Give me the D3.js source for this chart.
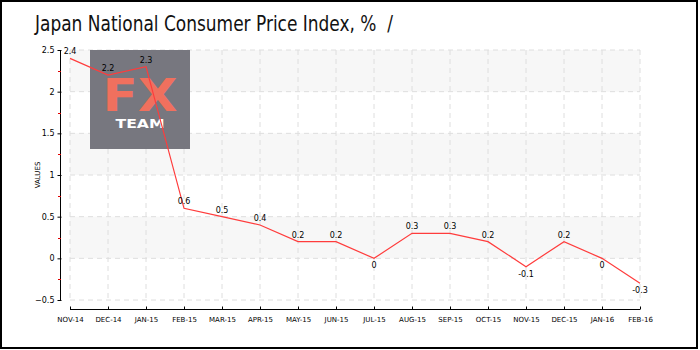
<!DOCTYPE html>
<html><head><meta charset="utf-8">
<script src="https://cdn.jsdelivr.net/npm/d3@7"></script>
<style>body{margin:0;background:#fff}svg{display:block}</style>
</head><body><svg id="c" width="700" height="350"></svg>
<script>
const titleText = "Japan National Consumer Price Index, %\u00a0\u00a0/";
const categories = ["NOV-14","DEC-14","JAN-15","FEB-15","MAR-15","APR-15","MAY-15","JUN-15","JUL-15","AUG-15","SEP-15","OCT-15","NOV-15","DEC-15","JAN-16","FEB-16"];
const values = [2.4,2.2,2.3,0.6,0.5,0.4,0.2,0.2,0,0.3,0.3,0.2,-0.1,0.2,0,-0.3];
const yTicks = [-0.5,0,0.5,1,1.5,2,2.5];
const yMinor = [-0.25,0.25,0.75,1.25,1.75,2.25];
const yLabel = "VALUES";

const svg = d3.select("#c");
const font = "'DejaVu Sans', sans-serif";
svg.append("rect").attr("x",1).attr("y",1).attr("width",696).attr("height",347)
  .attr("fill","#fff").attr("stroke","#000").attr("stroke-width",2);

svg.append("text").attr("x",35).attr("y",31).text(titleText)
  .attr("font-family","'Liberation Sans Narrow','DejaVu Sans Condensed',sans-serif")
  .attr("font-size",22).attr("fill","#111")
  .attr("textLength",358).attr("lengthAdjust","spacingAndGlyphs");

const x = d3.scalePoint().domain(categories).range([70,640]);
const y = d3.scaleLinear().domain([-0.5,2.5]).range([300,50]);

// bands
const bands = [[2,2.5],[1,1.5],[0,0.5]];
svg.selectAll(".band").data(bands).enter().append("rect")
  .attr("x",70).attr("width",570)
  .attr("y",d=>y(d[1])).attr("height",d=>y(d[0])-y(d[1]))
  .attr("fill","#f7f7f7");

// grid
svg.append("g").selectAll("line").data(yTicks).enter().append("line")
  .attr("x1",70).attr("x2",640).attr("y1",d=>y(d)).attr("y2",d=>y(d))
  .attr("stroke","#dedede").attr("stroke-dasharray","5,4");
svg.append("g").selectAll("line").data(categories).enter().append("line")
  .attr("x1",d=>x(d)).attr("x2",d=>x(d)).attr("y1",50).attr("y2",300)
  .attr("stroke","#dedede").attr("stroke-dasharray","5,4");

// logo
const logo = svg.append("g");
logo.append("rect").attr("x",90).attr("y",50).attr("width",100).attr("height",99).attr("fill","#77777f");
logo.append("text").attr("x",140).attr("y",111).attr("text-anchor","middle")
  .attr("font-family","'DejaVu Sans',sans-serif").attr("font-weight","bold").attr("font-size",44)
  .attr("fill","#f0705e").attr("textLength",75).attr("lengthAdjust","spacingAndGlyphs").text("FX");
logo.append("text").attr("x",140).attr("y",128).attr("text-anchor","middle")
  .attr("font-family","'DejaVu Sans',sans-serif").attr("font-weight","bold").attr("font-size",12)
  .attr("fill","#fff").attr("textLength",49).attr("lengthAdjust","spacingAndGlyphs").text("TEAM");

// y axis
const yAxis = svg.append("g").attr("transform","translate(60.5,0)")
  .call(d3.axisLeft(y).tickValues(yTicks).tickSize(3).tickFormat(d3.format("")));
yAxis.select(".domain").attr("d","M0,50V300").attr("stroke","#000");
yAxis.selectAll(".tick line").attr("x2",-3).attr("x1",1).attr("stroke","#000");
yAxis.selectAll(".tick text").attr("x",-6).attr("font-family",font).attr("font-size",8).attr("fill","#000");
svg.append("g").selectAll("line").data(yMinor).enter().append("line")
  .attr("x1",58).attr("x2",61).attr("y1",d=>Math.round(y(d))+0.5).attr("y2",d=>Math.round(y(d))+0.5)
  .attr("stroke","#e00000");
svg.append("text").attr("transform","translate(40,175) rotate(-90)").attr("text-anchor","middle")
  .attr("font-family",font).attr("font-size",7).attr("fill","#000").text(yLabel);

// x axis
const xAxis = svg.append("g").attr("transform","translate(0,309.5)")
  .call(d3.axisTop(x).tickSize(3));
xAxis.select(".domain").attr("d","M70,0H640").attr("stroke","#000");
xAxis.selectAll(".tick text").attr("y",12).attr("dy",0).attr("font-family",font).attr("font-size",7).attr("fill","#000");

// line
svg.append("path").datum(values)
  .attr("d",d3.line().x((d,i)=>x(categories[i])).y(d=>y(d)))
  .attr("fill","none").attr("stroke","#ff3c3c").attr("stroke-width",1.2);

// labels
svg.append("g").selectAll("text").data(values).enter().append("text")
  .attr("x",(d,i)=>x(categories[i]))
  .attr("y",d=>d>0 ? y(d)-4 : y(d)+10)
  .attr("text-anchor","middle").attr("font-family",font).attr("font-size",8).attr("fill","#000")
  .text(d=>d);
</script></body></html>
